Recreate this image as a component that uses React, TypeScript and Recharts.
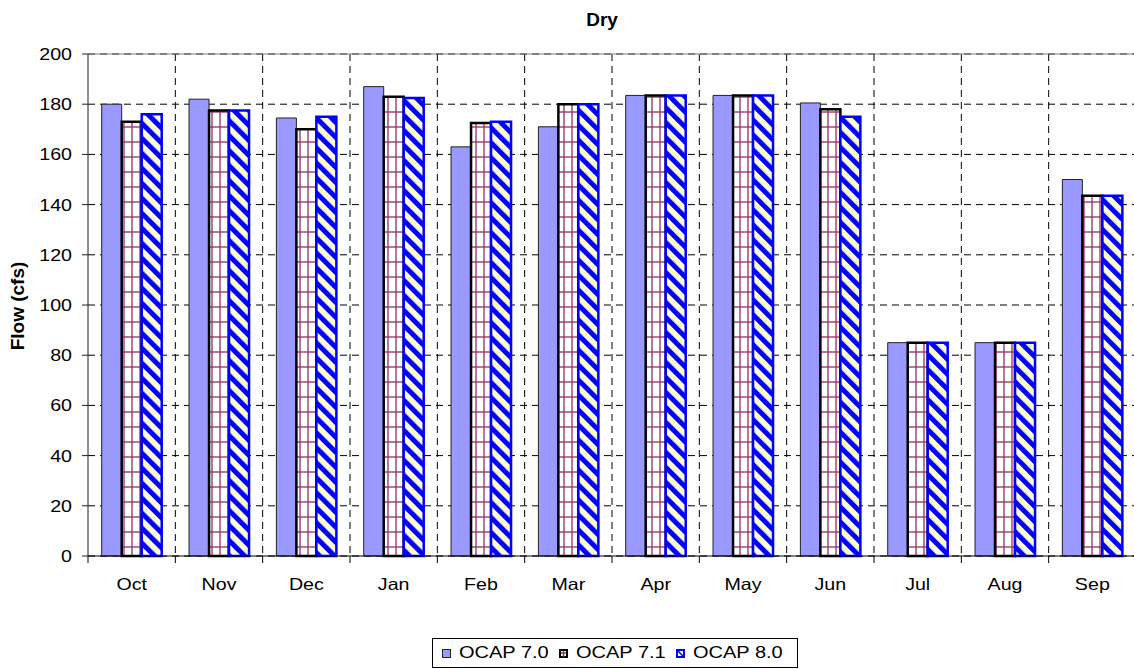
import React from 'react';
import { BarChart, Bar, XAxis, YAxis, CartesianGrid, Legend, ReferenceLine } from 'recharts';

const months = ['Oct', 'Nov', 'Dec', 'Jan', 'Feb', 'Mar', 'Apr', 'May', 'Jun', 'Jul', 'Aug', 'Sep'];
const ocap70 = [180, 182, 174.5, 187, 163, 171, 183.5, 183.5, 180.5, 85, 85, 150];
const ocap71 = [173, 177.5, 170, 183, 172.5, 180, 183.5, 183.5, 178, 85, 85, 143.5];
const ocap80 = [176, 177.5, 175, 182.5, 173, 180, 183.5, 183.5, 175, 85, 85, 143.5];
const yTicks = [0, 20, 40, 60, 80, 100, 120, 140, 160, 180, 200];
const seriesNames = ['OCAP 7.0', 'OCAP 7.1', 'OCAP 8.0'];
const chartTitle = 'Dry';
const yLabel = 'Flow (cfs)';

const data = months.map((m, i) => ({ month: m, a: ocap70[i], b: ocap71[i], c: ocap80[i] }));

const FONT = '"Liberation Sans", Arial, sans-serif';
const TICK_FS = 16.5;
const STRETCH = 1.19;

const MonthTick = (props: any) => {
  const { x, y, payload, width, visibleTicksCount, index } = props;
  const n = visibleTicksCount || months.length;
  const band = typeof width === 'number' ? width / n : 87.33;
  return (
    <g>
      <line x1={x - band / 2} x2={x - band / 2} y1={y} y2={y + 7} stroke="#000" strokeWidth={1} />
      {index === n - 1 && (
        <line x1={x + band / 2} x2={x + band / 2} y1={y} y2={y + 7} stroke="#000" strokeWidth={1} />
      )}
      <text
        transform={`translate(${x},${y + 34}) scale(${STRETCH},1)`}
        textAnchor="middle"
        fontSize={TICK_FS}
        fill="#000"
        fontFamily={FONT}
      >
        {payload.value}
      </text>
    </g>
  );
};

const ValueTick = (props: any) => {
  const { x, y, payload } = props;
  return (
    <text
      transform={`translate(${x},${y}) scale(${STRETCH},1)`}
      dy="0.36em"
      textAnchor="end"
      fontSize={TICK_FS}
      fill="#000"
      fontFamily={FONT}
    >
      {payload.value}
    </text>
  );
};

const Swatch = ({ i }: { i: number }) => {
  if (i === 0) {
    return (
      <svg width={9} height={9} style={{ marginRight: 8, display: 'block' }}>
        <rect x={0.5} y={0.5} width={8} height={8} fill="#9999FF" stroke="#222" strokeWidth={1} />
      </svg>
    );
  }
  if (i === 1) {
    return (
      <svg width={9} height={9} style={{ marginRight: 8, display: 'block' }}>
        <rect x={1} y={1} width={7} height={7} fill="#fff" stroke="#000" strokeWidth={2} />
        <line x1={4.5} x2={4.5} y1={2} y2={8} stroke="#993366" strokeWidth={1.5} />
        <line x1={2} x2={7} y1={4} y2={4} stroke="#993366" strokeWidth={1.5} />
      </svg>
    );
  }
  return (
    <svg width={9} height={9} style={{ marginRight: 8, display: 'block' }}>
      <rect x={1} y={1} width={7} height={7} fill="#FFFFCC" stroke="#0000FF" strokeWidth={2} />
      <line x1={2} x2={7} y1={2} y2={7} stroke="#0000FF" strokeWidth={1.5} />
    </svg>
  );
};

const renderLegend = (props: any) => {
  const payload = (props && props.payload) || [];
  const names = payload.length ? payload.map((p: any) => p.value) : seriesNames;
  return (
    <div
      style={{
        display: 'inline-flex',
        alignItems: 'center',
        border: '1px solid #000',
        padding: '3px 14px 3px 9px',
        fontSize: 16,
        lineHeight: '22px',
        fontFamily: FONT,
        background: '#fff',
        whiteSpace: 'nowrap',
        color: '#000',
      }}
    >
      {names.map((n: string, i: number) => (
        <span
          key={n}
          style={{ display: 'inline-flex', alignItems: 'center', marginRight: i < names.length - 1 ? 10 : 0 }}
        >
          <Swatch i={i} />
          <span style={{ display: 'inline-block', width: 90, overflow: 'visible' }}>
            <span style={{ display: 'inline-block', transform: 'scaleX(1.25)', transformOrigin: 'left center' }}>{n}</span>
          </span>
        </span>
      ))}
    </div>
  );
};

export default function App() {
  return (
    <div
      style={{
        position: 'absolute',
        left: 0,
        top: 0,
        width: 1134,
        height: 669,
        overflow: 'hidden',
        background: '#fff',
        fontFamily: FONT,
      }}
    >
      <BarChart
        width={1136}
        height={669}
        data={data}
        margin={{ top: 54, right: 0, left: 0, bottom: 1 }}
        barCategoryGap="15.7%"
        barGap={0}
      >
        <defs>
          <pattern id="grid71" width="8" height="15" patternUnits="userSpaceOnUse">
            <rect width="8" height="15" fill="#ffffff" />
            <line x1="4" y1="0" x2="4" y2="15" stroke="#993366" strokeWidth="1.6" strokeOpacity="0.85" />
            <line x1="0" y1="7" x2="8" y2="7" stroke="#993366" strokeWidth="1.6" strokeOpacity="0.85" />
          </pattern>
          <pattern id="diag80" width="10.6" height="10.6" patternUnits="userSpaceOnUse" patternTransform="rotate(-45)">
            <rect width="10.6" height="10.6" fill="#FFFFCC" />
            <rect width="5" height="10.6" fill="#0000FF" />
          </pattern>
        </defs>
        <text x={602} y={26} textAnchor="middle" fontWeight="bold" fontSize={19} fill="#000" fontFamily={FONT}>
          {chartTitle}
        </text>
        <text
          transform="translate(24,306) rotate(-90)"
          textAnchor="middle"
          fontWeight="bold"
          fontSize={19}
          fill="#000"
          fontFamily={FONT}
        >
          {yLabel}
        </text>
        <CartesianGrid
          stroke="#000"
          strokeDasharray="7 5"
          verticalCoordinatesGenerator={({ offset }: any) =>
            months.slice(1).map((_, i) => offset.left + ((i + 1) * offset.width) / months.length)
          }
        />
        <ReferenceLine y={200} stroke="#808080" strokeWidth={1} />
        <XAxis
          dataKey="month"
          height={82}
          interval={0}
          tickLine={false}
          tickSize={0}
          tickMargin={0}
          axisLine={{ stroke: '#000' }}
          tick={<MonthTick />}
        />
        <YAxis
          width={88}
          domain={[0, 200]}
          ticks={yTicks}
          interval={0}
          tickSize={6}
          tickMargin={10}
          axisLine={{ stroke: '#222' }}
          tickLine={{ stroke: '#222' }}
          tick={<ValueTick />}
        />
        <Bar dataKey="a" name={seriesNames[0]} fill="#9999FF" stroke="#222" strokeWidth={1} isAnimationActive={false} />
        <Bar dataKey="b" name={seriesNames[1]} fill="url(#grid71)" stroke="#000" strokeWidth={2.5} isAnimationActive={false} />
        <Bar dataKey="c" name={seriesNames[2]} fill="url(#diag80)" stroke="#0000FF" strokeWidth={2.5} isAnimationActive={false} />
        <Legend
          verticalAlign="bottom"
          content={renderLegend}
          wrapperStyle={{ left: 432, width: 'auto', bottom: 1 }}
        />
      </BarChart>
    </div>
  );
}
